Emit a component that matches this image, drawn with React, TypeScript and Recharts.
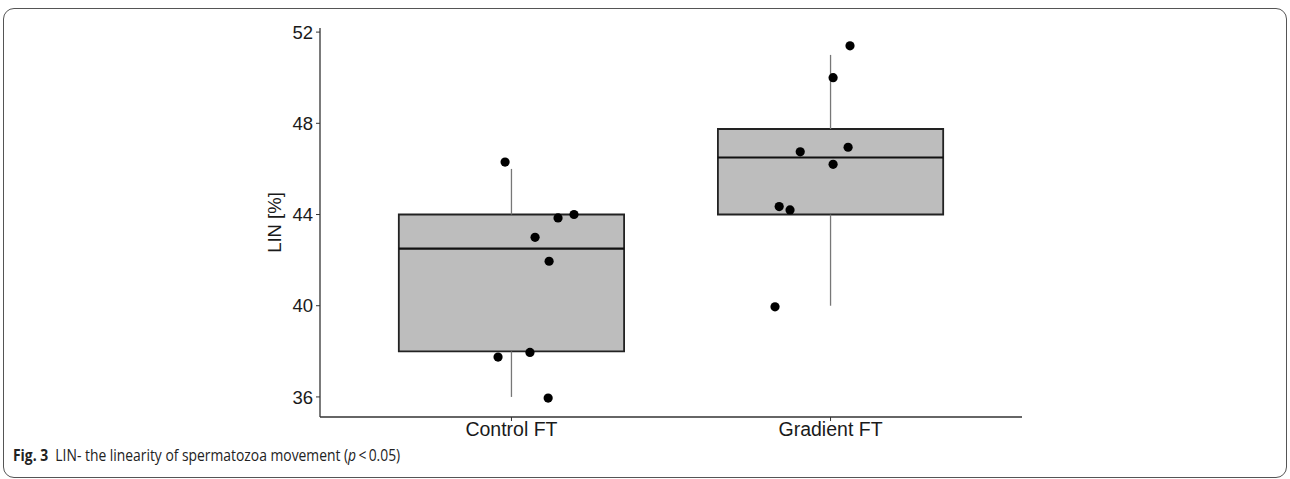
import React from 'react';
import { ComposedChart, Scatter, XAxis, YAxis, ReferenceArea, ReferenceLine } from 'recharts';

const categories = ['Control FT', 'Gradient FT'];

// box statistics per group: [min, q1, median, q3, max]
const controlBox = [36, 38, 42.5, 44, 46];
const gradientBox = [40, 44, 46.5, 47.75, 51];

// jittered points: offset from category position, value
const controlPoints = [
  { dx: -0.02, y: 46.3 },
  { dx: 0.146, y: 43.85 },
  { dx: 0.196, y: 44.0 },
  { dx: 0.074, y: 43.0 },
  { dx: 0.118, y: 41.95 },
  { dx: -0.042, y: 37.75 },
  { dx: 0.058, y: 37.95 },
  { dx: 0.115, y: 35.95 },
];
const gradientPoints = [
  { dx: 0.061, y: 51.4 },
  { dx: 0.008, y: 50.0 },
  { dx: -0.095, y: 46.75 },
  { dx: 0.055, y: 46.95 },
  { dx: 0.008, y: 46.2 },
  { dx: -0.161, y: 44.35 },
  { dx: -0.127, y: 44.2 },
  { dx: -0.174, y: 39.95 },
];

const yTicks = [36, 40, 44, 48, 52];

const boxes = [controlBox, gradientBox];
const halfWidth = 0.353;

const scatterData = [
  ...controlPoints.map(p => ({ x: 1 + p.dx, y: p.y })),
  ...gradientPoints.map(p => ({ x: 2 + p.dx, y: p.y })),
];

const dot = (props: any) => <circle cx={props.cx} cy={props.cy} r={4.6} fill="#000" />;

export default function App() {
  return (
    <div style={{ position: 'absolute', left: 0, top: 0, width: 1290, height: 479, background: '#fff', overflow: 'hidden' }}>
      <div
        style={{
          position: 'absolute',
          left: 3,
          top: 8,
          width: 1282,
          height: 468,
          border: '1.5px solid #555',
          borderRadius: 11,
        }}
      />
      <ComposedChart
        width={1290}
        height={479}
        margin={{ top: 28, right: 268, bottom: 32, left: 260 }}
        style={{ position: 'absolute', left: 0, top: 0 }}
      >
        <XAxis
          type="number"
          dataKey="x"
          domain={[0.4, 2.6]}
          ticks={[1, 2]}
          tickFormatter={(v: number) => categories[v - 1]}
          height={30}
          tickSize={4}
          tickMargin={1}
          stroke="#333"
          tick={{ fill: '#1a1a1a', fontSize: 19.5, fontFamily: 'Liberation Sans, Arial, sans-serif' }}
          axisLine={{ stroke: '#333', strokeWidth: 1.3 }}
          tickLine={{ stroke: '#333' }}
        />
        <YAxis
          type="number"
          dataKey="y"
          domain={[35.12, 52.18]}
          ticks={yTicks}
          width={60}
          tickSize={4}
          tickMargin={3}
          stroke="#333"
          tick={{ fill: '#1a1a1a', fontSize: 18.5, fontFamily: 'Liberation Sans, Arial, sans-serif' }}
          axisLine={{ stroke: '#333', strokeWidth: 1.3 }}
          tickLine={{ stroke: '#333' }}
          label={{
            value: 'LIN [%]',
            angle: -90,
            position: 'insideLeft',
            offset: 14,
            style: { textAnchor: 'middle', fill: '#1a1a1a', fontSize: 18.5, fontFamily: 'Liberation Sans, Arial, sans-serif' },
          }}
        />
        {boxes.map((b, i) => (
          <ReferenceLine
            key={'wl' + i}
            segment={[{ x: i + 1, y: b[0] }, { x: i + 1, y: b[1] }]}
            stroke="#777"
            strokeWidth={1.3}
          />
        ))}
        {boxes.map((b, i) => (
          <ReferenceLine
            key={'wh' + i}
            segment={[{ x: i + 1, y: b[3] }, { x: i + 1, y: b[4] }]}
            stroke="#777"
            strokeWidth={1.3}
          />
        ))}
        {boxes.map((b, i) => (
          <ReferenceArea
            key={'box' + i}
            x1={i + 1 - halfWidth}
            x2={i + 1 + halfWidth}
            y1={b[1]}
            y2={b[3]}
            fill="#bdbdbd"
            fillOpacity={1}
            stroke="#222"
            strokeWidth={1.8}
            ifOverflow="visible"
          />
        ))}
        {boxes.map((b, i) => (
          <ReferenceLine
            key={'med' + i}
            segment={[{ x: i + 1 - halfWidth, y: b[2] }, { x: i + 1 + halfWidth, y: b[2] }]}
            stroke="#111"
            strokeWidth={2.2}
          />
        ))}
        <Scatter data={scatterData} shape={dot} isAnimationActive={false} />
      </ComposedChart>
      <div
        style={{
          position: 'absolute',
          left: 13,
          top: 443,
          fontFamily: 'Open Sans, Noto Sans, sans-serif',
          fontSize: 16.5,
          color: '#222',
          whiteSpace: 'nowrap',
          transform: 'scaleX(0.84)',
          transformOrigin: 'left top',
        }}
      >
        <b>Fig. 3</b>&nbsp; LIN- the linearity of spermatozoa movement (<i>p</i>&thinsp;&lt;&thinsp;0.05)
      </div>
    </div>
  );
}
